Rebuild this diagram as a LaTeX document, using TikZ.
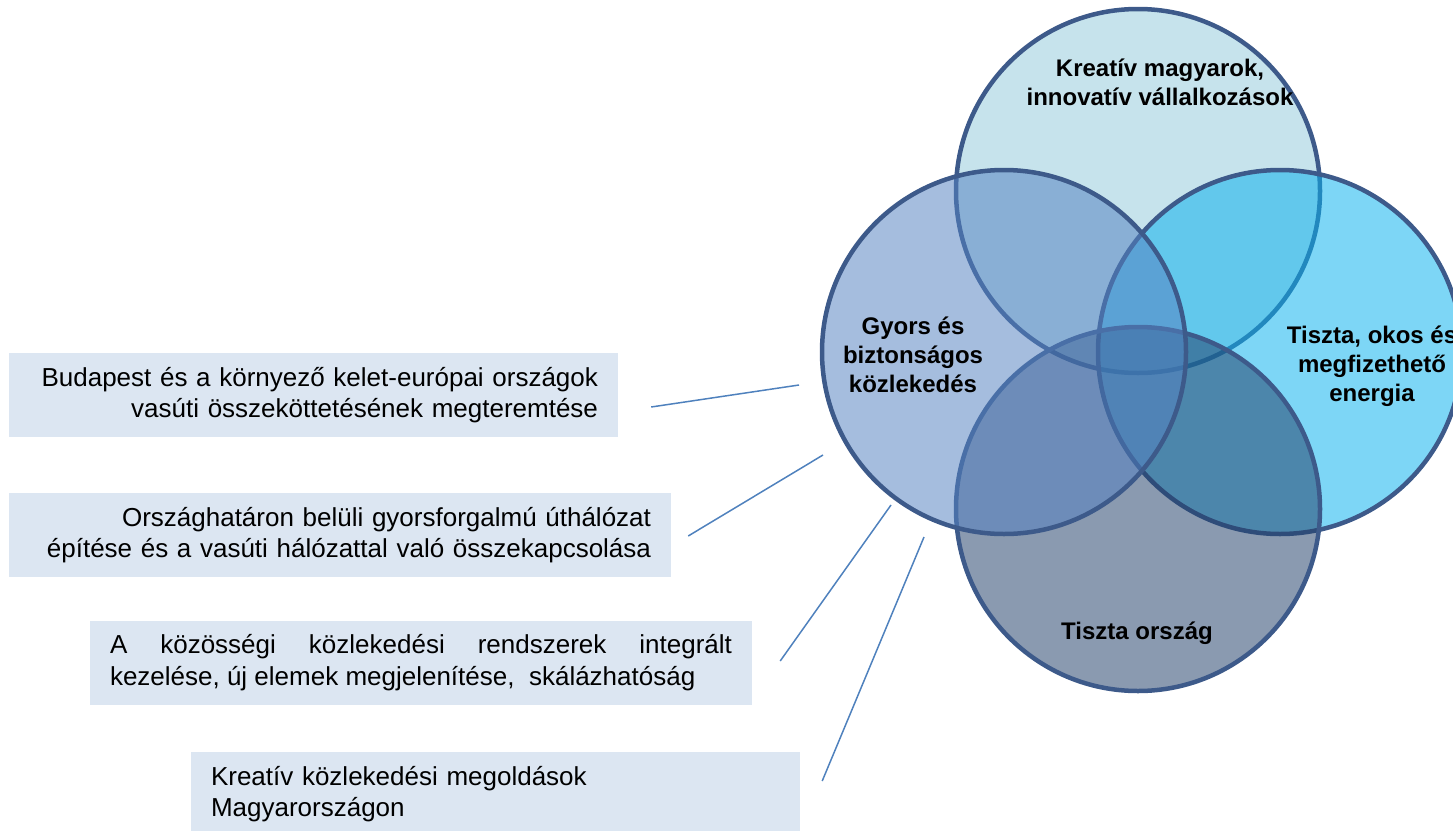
\documentclass[tikz,border=0pt]{standalone}
\usepackage{fontspec}
\setmainfont{Liberation Sans}
\usetikzlibrary{positioning}

\definecolor{ringline}{HTML}{3D5A8A}
\definecolor{topfill}{HTML}{93CADB}
\definecolor{leftfill}{HTML}{5582C1}
\definecolor{rightfill}{HTML}{0AB2EE}
\definecolor{bottomfill}{HTML}{22406A}
\definecolor{boxfill}{HTML}{DCE6F2}
\definecolor{linkblue}{HTML}{4F81BD}

\begin{document}
\begin{tikzpicture}[x=1pt,y=-1pt,
    ring/.style={fill opacity=0.53},
    rim/.style={draw=ringline,line width=4.5pt},
    title/.style={align=center,font=\fontsize{24}{29}\selectfont\bfseries},
    goal/.style={fill=boxfill,minimum height=84pt,inner xsep=20pt,
      font=\fontsize{26}{31.5}\selectfont},
    link/.style={draw=linkblue,line width=1.5pt}]
    \useasboundingbox (0,0) rectangle (1453,830);

    % the four rings, back to front
    \fill[ring,topfill] (1138,191) circle (182pt);
    \draw[rim] (1138,191) circle (182pt);
    \fill[ring,rightfill] (1280,352) circle (182pt);
    \draw[rim] (1280,352) circle (182pt);
    \fill[ring,bottomfill] (1138,509) circle (182pt);
    \draw[rim] (1138,509) circle (182pt);
    \fill[ring,leftfill] (1004,352) circle (182pt);
    \draw[rim] (1004,352) circle (182pt);

    \node[title] (kreativ) at (1160,82) {Kreatív magyarok,\\innovatív vállalkozások};
    \node[title] (gyors) at (913,355) {Gyors és\\biztonságos\\közlekedés};
    \node[title] (energia) at (1372,366) {Tiszta, okos és\\megfizethető\\energia};
    \node[title] (orszag) at (1137,633) {Tiszta ország};

    % goals on the left
    \node[goal,text width=569pt,align=right] (vasut) at (313.5,395)
      {Budapest és a környező kelet-európai országok\\vasúti összeköttetésének megteremtése};
    \node[goal,text width=622pt,align=right] (ut) at (340,535)
      {Országhatáron belüli gyorsforgalmú úthálózat\\építése és a vasúti hálózattal való összekapcsolása};
    \node[goal,text width=622pt,align=justify] (kozosseg) at (421,662.5)
      {\hyphenpenalty=10000 A közösségi közlekedési rendszerek integrált kezelése, új elemek megjelenítése,~ skálázhatóság};
    \node[goal,text width=569pt,align=left] (megoldas) at (495.5,794)
      {Kreatív közlekedési megoldások\\Magyarországon};

    \coordinate (p1) at (799,385);
    \coordinate (p2) at (823,455);
    \coordinate (p3) at (891,505);
    \coordinate (p4) at (924,537);

    \draw[link] ([xshift=33pt,yshift=-12pt]vasut.east) -- (p1);
    \draw[link] ([xshift=17pt,yshift=-1pt]ut.east) -- (p2);
    \draw[link] ([xshift=28pt,yshift=1.5pt]kozosseg.east) -- (p3);
    \draw[link] ([xshift=22pt,yshift=13pt]megoldas.east) -- (p4);
\end{tikzpicture}
\end{document}
